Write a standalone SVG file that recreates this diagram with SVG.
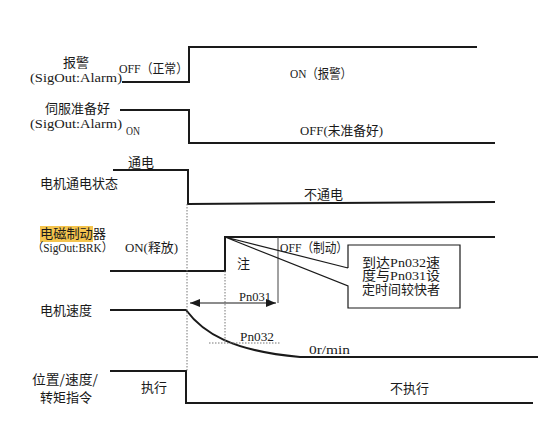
<svg xmlns="http://www.w3.org/2000/svg" width="551" height="434" viewBox="0 0 551 434">
<style>
  .sig { fill: none; stroke: #1a1a1a; stroke-width: 2; }
  .thin { fill: none; stroke: #1a1a1a; stroke-width: 1.2; }
  .dot { fill: none; stroke: #777; stroke-width: 1; stroke-dasharray: 1.5 1.5; }
  .cj { font-family: "Noto Sans CJK SC", "Liberation Serif", sans-serif; font-size: 13px; fill: #1a1a1a; }
  .mn { font-family: "Liberation Serif", "Noto Sans CJK SC", serif; font-size: 13px; fill: #1a1a1a; }
  .sm { font-family: "Liberation Serif", "Noto Sans CJK SC", serif; font-size: 12px; fill: #1a1a1a; }
</style>
<defs>
  <marker id="ah" viewBox="0 0 10 8" refX="10" refY="4" markerWidth="10" markerHeight="8" markerUnits="userSpaceOnUse" orient="auto-start-reverse">
    <path d="M0,0 L10,4 L0,8 Z" fill="#1a1a1a"/>
  </marker>
</defs>
<rect width="551" height="434" fill="#fff"/>

<g id="connectors">
  <path class="sig" d="M122,82 H189 V47 H477"/>
  <path class="sig" d="M120,110 H189 V143 H495"/>
  <path class="sig" d="M113,170 H188 V204 L495,202"/>
  <path class="sig" d="M110,271 H225 V237 H495"/>
  <path class="sig" d="M110,310 H186 C203,333 232,351 300,357 H538" stroke-width="1.6"/>
  <path class="sig" d="M110,371 H186 V403 H533"/>
  <path class="dot" d="M187,204 V371"/>
  <path class="dot" d="M225,271 V343"/>
  <path class="dot" d="M209,343 H280"/>
  <path d="M278,237 V303" fill="none" stroke="#444" stroke-width="1"/>
  <path class="thin" d="M190,303 H276" marker-start="url(#ah)" marker-end="url(#ah)"/>
  <path class="thin" d="M348,268 L225,237 L348,286 V308 H460 V245 H348 V268"/>
</g>

<g id="alarm">
  <text class="cj" x="76" y="66.5" text-anchor="middle">报警</text>
  <text class="mn" x="30" y="81.5" textLength="92" lengthAdjust="spacingAndGlyphs">(SigOut:Alarm)</text>
  <text class="mn" x="119" y="72.5" textLength="69" lengthAdjust="spacingAndGlyphs">OFF（正常）</text>
  <text class="mn" x="290" y="77.5" textLength="62" lengthAdjust="spacingAndGlyphs">ON（报警）</text>
</g>

<g id="servo-ready">
  <text class="cj" x="45" y="113">伺服准备好</text>
  <text class="mn" x="30" y="128" textLength="92" lengthAdjust="spacingAndGlyphs">(SigOut:Alarm)</text>
  <text class="sm" x="126" y="134.5" textLength="14" lengthAdjust="spacingAndGlyphs">ON</text>
  <text class="mn" x="300" y="134.5" textLength="83" lengthAdjust="spacingAndGlyphs">OFF(未准备好)</text>
</g>

<g id="motor-power">
  <text class="cj" x="128" y="166.5">通电</text>
  <text class="cj" x="40" y="187.5">电机通电状态</text>
  <text class="cj" x="304" y="198.5">不通电</text>
</g>

<g id="brake">
  <rect x="40" y="226" width="53" height="16" fill="#F4C44E"/>
  <text class="cj" x="40" y="238" textLength="66" lengthAdjust="spacingAndGlyphs">电磁制动器</text>
  <text class="sm" x="32" y="251.5" textLength="81" lengthAdjust="spacingAndGlyphs">（SigOut:BRK）</text>
  <text class="mn" x="125" y="251.5" textLength="53" lengthAdjust="spacingAndGlyphs">ON(释放)</text>
  <text class="cj" x="237" y="267.5">注</text>
  <text class="mn" x="280" y="251.5" textLength="68" lengthAdjust="spacingAndGlyphs">OFF（制动）</text>
</g>

<g id="callout">
  <text class="mn" x="362" y="266.5" font-size="12" textLength="78" lengthAdjust="spacingAndGlyphs">到达Pn032速</text>
  <text class="mn" x="362" y="280" font-size="12" textLength="78" lengthAdjust="spacingAndGlyphs">度与Pn031设</text>
  <text class="mn" x="362" y="293.5" font-size="12" textLength="78" lengthAdjust="spacingAndGlyphs">定时间较快者</text>
</g>

<g id="motor-speed">
  <text class="cj" x="40" y="314.5">电机速度</text>
  <text class="mn" x="239" y="301" textLength="32" lengthAdjust="spacingAndGlyphs">Pn031</text>
  <text class="mn" x="240" y="340.5" textLength="34" lengthAdjust="spacingAndGlyphs">Pn032</text>
  <text class="mn" x="309" y="353.5" textLength="41" lengthAdjust="spacingAndGlyphs">0r/min</text>
</g>

<g id="command">
  <text class="cj" x="32" y="383.5" font-size="12" textLength="66" lengthAdjust="spacingAndGlyphs">位置/速度/</text>
  <text class="cj" x="40" y="401.5" font-size="12.5">转矩指令</text>
  <text class="cj" x="141" y="391.5">执行</text>
  <text class="cj" x="390" y="392.5">不执行</text>
</g>
</svg>
